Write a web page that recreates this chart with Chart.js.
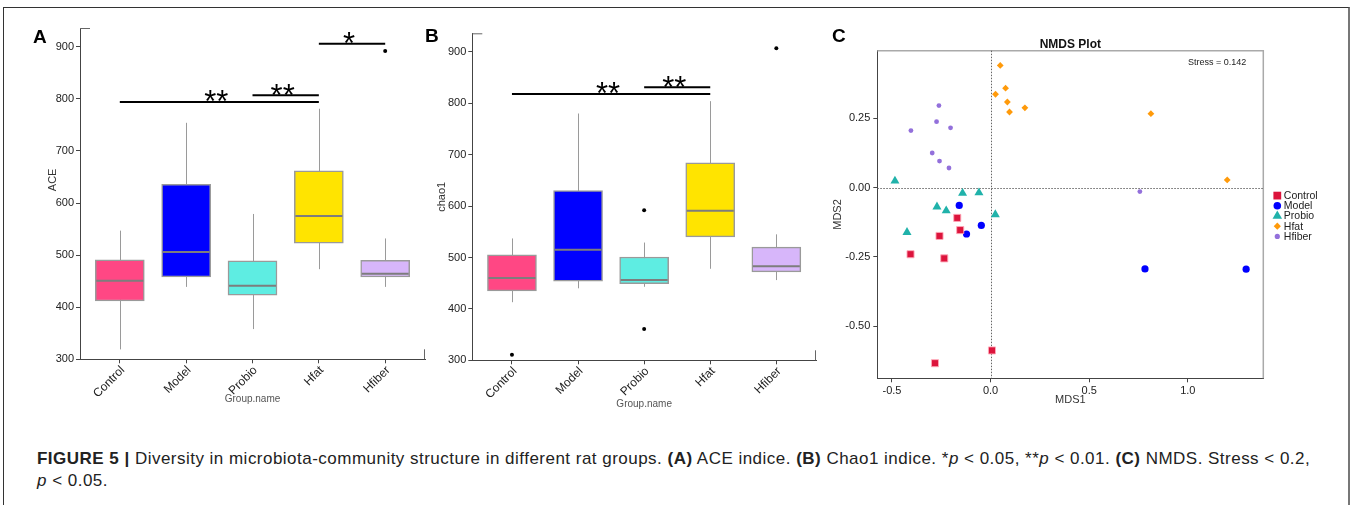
<!DOCTYPE html>
<html>
<head>
<meta charset="utf-8">
<script src="https://cdn.jsdelivr.net/npm/chart.js@4.4.1/dist/chart.umd.min.js"></script>
<style>
  body { margin: 0; background: #fff; font-family: "Liberation Sans", Arial, sans-serif; }
  #fig { position: relative; width: 1352px; height: 505px; overflow: hidden; background: #fff; }
  #frame { position: absolute; left: 3px; top: 7px; width: 1344px; height: 560px;
           border-top: 1px solid #333; border-left: 1px solid #333; border-right: 2px solid #777; }
  canvas { position: absolute; top: 0; }
  .plabel { position: absolute; font: bold 19px/19px "Liberation Sans", Arial, sans-serif; color: #000; }
  #caption { position: absolute; left: 37px; top: 448px; font-size: 17px; line-height: 22px;
             letter-spacing: 0.48px; color: #222; white-space: nowrap; }
</style>
</head>
<body>
<div id="fig">
  <div id="frame"></div>
  <canvas id="chartA" width="430" height="420" style="left:0px"></canvas>
  <canvas id="chartB" width="390" height="420" style="left:430px"></canvas>
  <canvas id="chartC" width="532" height="420" style="left:820px"></canvas>
  <div class="plabel" style="left:33px;top:27px">A</div>
  <div class="plabel" style="left:425px;top:26px">B</div>
  <div class="plabel" style="left:832px;top:26px">C</div>
  <div id="caption"><b>FIGURE 5 |</b> Diversity in microbiota-community structure in different rat groups. <b>(A)</b> ACE indice. <b>(B)</b> Chao1 indice. *<i>p</i> &lt; 0.05, **<i>p</i> &lt; 0.01. <b>(C)</b> NMDS. Stress &lt; 0.2,<br><i>p</i> &lt; 0.05.</div>
</div>
<script>
const groups = ["Control", "Model", "Probio", "Hfat", "Hfiber"]
const boxTicks = [300, 400, 500, 600, 700, 800, 900]

// ACE (panel A)
const aceMin = [319, 439, 358, 473, 439]
const aceQ1 = [412, 458, 423, 523, 458]
const aceMedian = [451, 506, 441, 575, 464]
const aceQ3 = [491, 636, 489, 662, 490]
const aceMax = [547, 754, 579, 781, 532]
const aceOutliers = [[], [], [], [], [892]]

// Chao1 (panel B)
const chaoMin = [413, 440, 443, 478, 456]
const chaoQ1 = [435, 454, 449, 540, 472]
const chaoMedian = [460, 515, 456, 591, 483]
const chaoQ3 = [505, 630, 501, 684, 520]
const chaoMax = [537, 780, 529, 804, 545]
const chaoOutliers = [[311], [], [592, 361], [], [907]]

// significance brackets
const aceSigFrom = [0, 2, 3]
const aceSigTo = [3, 3, 4]
const aceSigAt = [794, 807, 906]
const aceSigLabel = ["**", "**", "*"]
const chaoSigFrom = [0, 2]
const chaoSigTo = [3, 3]
const chaoSigAt = [818, 831]
const chaoSigLabel = ["**", "**"]

// NMDS (panel C)
const controlX = [-0.169, -0.154, -0.259, -0.406, -0.235, 0.007, -0.282]
const controlY = [-0.109, -0.153, -0.174, -0.240, -0.255, -0.587, -0.633]
const modelX = [-0.159, -0.047, -0.122, 0.783, 1.296]
const modelY = [-0.064, -0.136, -0.167, -0.293, -0.294]
const probioX = [-0.485, -0.142, -0.059, -0.272, -0.225, 0.024, -0.424]
const probioY = [0.024, -0.020, -0.018, -0.069, -0.083, -0.097, -0.161]
const hfatX = [0.049, 0.076, 0.025, 0.085, 0.096, 0.174, 0.813, 1.200]
const hfatY = [0.441, 0.359, 0.337, 0.309, 0.273, 0.288, 0.267, 0.028]
const hfiberX = [-0.262, -0.274, -0.404, -0.203, -0.296, -0.259, -0.211, 0.757]
const hfiberY = [0.296, 0.238, 0.206, 0.216, 0.125, 0.096, 0.071, -0.014]
const mdsXTicks = [-0.5, 0, 0.5, 1.0]
const mdsYTicks = [-0.5, -0.25, 0, 0.25]
const stress = 0.142

const FONT = "'Liberation Sans', Arial, sans-serif"
Chart.defaults.font.family = FONT
Chart.defaults.color = "#222"

const boxFill = ["#FF4784", "#0000FF", "#5EEDE2", "#FFE400", "#D7B6FA"]

function boxChart(id, st, sig, yTitle, pad, xHeight, yWidth) {
  const outPts = []
  st.out.forEach((vals, i) => vals.forEach(v => outPts.push({ x: i, y: v })))

  const extras = {
    id: "boxExtras",
    beforeDatasetsDraw(chart) {
      const { ctx, scales: { x, y } } = chart
      ctx.save()
      ctx.strokeStyle = "#9a9a9a"
      ctx.lineWidth = 1
      groups.forEach((g, i) => {
        const px = Math.round(x.getPixelForValue(i)) + 0.5
        ctx.beginPath()
        ctx.moveTo(px, y.getPixelForValue(st.max[i]))
        ctx.lineTo(px, y.getPixelForValue(st.min[i]))
        ctx.stroke()
      })
      ctx.restore()
    },
    afterDatasetsDraw(chart) {
      const { ctx, scales: { x, y }, chartArea: a } = chart
      ctx.save()
      // medians
      ctx.strokeStyle = "#7d7d7d"
      ctx.lineWidth = 2
      chart.getDatasetMeta(0).data.forEach((bar, i) => {
        const py = y.getPixelForValue(st.med[i])
        ctx.beginPath()
        ctx.moveTo(bar.x - bar.width / 2 + 1, py)
        ctx.lineTo(bar.x + bar.width / 2 - 1, py)
        ctx.stroke()
      })
      // significance lines
      ctx.strokeStyle = "#000"
      ctx.fillStyle = "#000"
      ctx.font = "31px " + FONT
      ctx.textAlign = "center"
      ctx.textBaseline = "alphabetic"
      sig.from.forEach((f, k) => {
        const py = y.getPixelForValue(sig.at[k])
        const x0 = x.getPixelForValue(f)
        const x1 = x.getPixelForValue(sig.to[k])
        ctx.beginPath()
        ctx.moveTo(x0, py)
        ctx.lineTo(x1, py)
        ctx.stroke()
        ctx.fillText(sig.label[k], (x0 + x1) / 2 - 3, py + 10.5)
      })
      // little corner marks left by the panel border
      ctx.strokeStyle = "#666"
      ctx.lineWidth = 1
      ctx.beginPath()
      ctx.moveTo(a.left, a.top + 0.5)
      ctx.lineTo(a.left + 10, a.top + 0.5)
      ctx.moveTo(a.right - 0.5, a.bottom)
      ctx.lineTo(a.right - 0.5, a.bottom - 10)
      ctx.stroke()
      ctx.restore()
    }
  }

  return new Chart(document.getElementById(id), {
    type: "bar",
    data: {
      datasets: [
        {
          data: groups.map((g, i) => ({ x: i, y: [st.q1[i], st.q3[i]] })),
          backgroundColor: boxFill,
          borderColor: "#9a9a9a",
          borderWidth: 1.5,
          borderSkipped: false,
          barThickness: 49
        },
        {
          type: "scatter",
          data: outPts,
          pointRadius: 2,
          pointBackgroundColor: "#000",
          pointBorderWidth: 0
        }
      ]
    },
    options: {
      responsive: false,
      animation: false,
      devicePixelRatio: 1,
      layout: { padding: pad },
      plugins: { legend: { display: false }, tooltip: { enabled: false } },
      scales: {
        x: {
          type: "linear",
          min: -0.6,
          max: 4.6,
          offset: false,
          afterBuildTicks: s => { s.ticks = groups.map((g, i) => ({ value: i })) },
          afterFit: s => { s.height = xHeight },
          ticks: {
            callback: v => groups[v],
            autoSkip: false,
            minRotation: 45,
            maxRotation: 45,
            padding: 0,
            labelOffset: 3,
            font: { size: 12 },
            color: "#222"
          },
          grid: { offset: false, drawOnChartArea: false, tickLength: 4, color: "#444" },
          border: { color: "#444", width: 1 },
          title: { display: true, text: "Group.name", font: { size: 10 }, color: "#555" }
        },
        y: {
          min: 300,
          max: 936,
          beginAtZero: false,
          afterBuildTicks: s => { s.ticks = boxTicks.map(v => ({ value: v })) },
          afterFit: s => { s.width = yWidth },
          ticks: { padding: 2, font: { size: 11 }, color: "#222" },
          grid: { drawOnChartArea: false, tickLength: 4, color: "#444" },
          border: { color: "#444", width: 1 },
          title: { display: true, text: yTitle, font: { size: 11 }, color: "#333" }
        }
      }
    },
    plugins: [extras]
  })
}

// leading spaces nudge the rotated "ACE" title up to where the original sits
boxChart("chartA",
  { min: aceMin, q1: aceQ1, med: aceMedian, q3: aceQ3, max: aceMax, out: aceOutliers },
  { from: aceSigFrom, to: aceSigTo, at: aceSigAt, label: aceSigLabel },
  "         ACE", { left: 42.4, right: 5, top: 28, bottom: 11 }, 49.7, 37.6)

boxChart("chartB",
  { min: chaoMin, q1: chaoQ1, med: chaoMedian, q3: chaoQ3, max: chaoMax, out: chaoOutliers },
  { from: chaoSigFrom, to: chaoSigTo, at: chaoSigAt, label: chaoSigLabel },
  "chao1", { left: 1.4, right: 3, top: 33.3, bottom: 6 }, 53.7, 40.9)

// NMDS scatter
const pts = (xs, ys) => xs.map((v, i) => ({ x: v, y: ys[i] }))

const nmdsExtras = {
  id: "nmdsExtras",
  beforeDatasetsDraw(chart) {
    const { ctx, scales: { x, y }, chartArea: a } = chart
    ctx.save()
    // top and right border of the panel
    ctx.strokeStyle = "#aaa"
    ctx.lineWidth = 1.5
    ctx.beginPath()
    ctx.moveTo(a.left, a.top)
    ctx.lineTo(a.right, a.top)
    ctx.lineTo(a.right, a.bottom)
    ctx.stroke()
    // dotted reference lines at zero
    ctx.strokeStyle = "#666"
    ctx.lineWidth = 1
    ctx.setLineDash([1.5, 1.5])
    const x0 = Math.round(x.getPixelForValue(0)) + 0.5
    const y0 = Math.round(y.getPixelForValue(0)) + 0.5
    ctx.beginPath()
    ctx.moveTo(x0, a.top)
    ctx.lineTo(x0, a.bottom)
    ctx.moveTo(a.left, y0)
    ctx.lineTo(a.right, y0)
    ctx.stroke()
    ctx.restore()
  },
  afterDraw(chart) {
    const { ctx, chartArea: a } = chart
    ctx.save()
    ctx.fillStyle = "#222"
    ctx.font = "9px " + FONT
    ctx.textAlign = "right"
    ctx.textBaseline = "middle"
    ctx.fillText("Stress = " + stress.toFixed(3), a.right - 17, a.top + 12)
    // legend
    const midY = (a.top + a.bottom) / 2 + 1.5
    ctx.font = "10.5px " + FONT
    ctx.textAlign = "left"
    chart.data.datasets.forEach((ds, i) => {
      const ly = midY + (i - 2) * 10.2
      ctx.fillStyle = ds.backgroundColor
      ctx.strokeStyle = ds.borderColor || ds.backgroundColor
      Chart.helpers.drawPoint(ctx, { pointStyle: ds.pointStyle, radius: ds.legendRadius, rotation: 0, borderWidth: 0 }, a.right + 14, ly)
      ctx.fillStyle = "#222"
      ctx.fillText(ds.label, a.right + 20.5, ly + 0.5)
    })
    ctx.restore()
  }
}

new Chart(document.getElementById("chartC"), {
  type: "scatter",
  data: {
    datasets: [
      { label: "Control", data: pts(controlX, controlY), pointStyle: "rect", pointRadius: 5, legendRadius: 5.5,
        backgroundColor: "#DC143C", borderColor: "rgba(255,170,185,0.9)", borderWidth: 1 },
      { label: "Model", data: pts(modelX, modelY), pointStyle: "circle", pointRadius: 3.6, legendRadius: 3.8,
        backgroundColor: "#0000FF", borderWidth: 0 },
      { label: "Probio", data: pts(probioX, probioY), pointStyle: "triangle", pointRadius: 5.2, legendRadius: 5.5,
        backgroundColor: "#20B2AA", borderWidth: 0 },
      { label: "Hfat", data: pts(hfatX, hfatY), pointStyle: "rectRot", pointRadius: 3.4, legendRadius: 3.6,
        backgroundColor: "#FF9A0A", borderWidth: 0 },
      { label: "Hfiber", data: pts(hfiberX, hfiberY), pointStyle: "circle", pointRadius: 2.4, legendRadius: 2.6,
        backgroundColor: "#9370DB", borderWidth: 0 }
    ]
  },
  options: {
    responsive: false,
    animation: false,
    devicePixelRatio: 1,
    layout: { padding: { left: 7.4, right: 88.7, top: 0, bottom: 9.4 } },
    plugins: {
      legend: { display: false },
      tooltip: { enabled: false },
      title: {
        display: true,
        text: "NMDS Plot",
        fullSize: false,
        font: { size: 12, weight: "bold" },
        color: "#111",
        padding: { top: 37, bottom: -0.7 }
      }
    },
    scales: {
      x: {
        type: "linear",
        min: -0.5745,
        max: 1.383,
        afterBuildTicks: s => { s.ticks = mdsXTicks.map(v => ({ value: v })) },
        afterFit: s => { s.height = 32.3 },
        ticks: { callback: v => v.toFixed(1), padding: 2, font: { size: 11 }, color: "#222", maxRotation: 0 },
        grid: { drawOnChartArea: false, tickLength: 4, color: "#444" },
        border: { color: "#444", width: 1 },
        title: { display: true, text: "MDS1", font: { size: 11 }, color: "#333" }
      },
      y: {
        min: -0.6875,
        max: 0.494,
        afterBuildTicks: s => { s.ticks = mdsYTicks.map(v => ({ value: v })) },
        afterFit: s => { s.width = 49.9 },
        ticks: { callback: v => v.toFixed(2), padding: 3, font: { size: 11 }, color: "#222" },
        grid: { drawOnChartArea: false, tickLength: 4, color: "#444" },
        border: { color: "#444", width: 1 },
        title: { display: true, text: "MDS2", font: { size: 11 }, color: "#333" }
      }
    }
  },
  plugins: [nmdsExtras]
})
</script>
</body>
</html>
